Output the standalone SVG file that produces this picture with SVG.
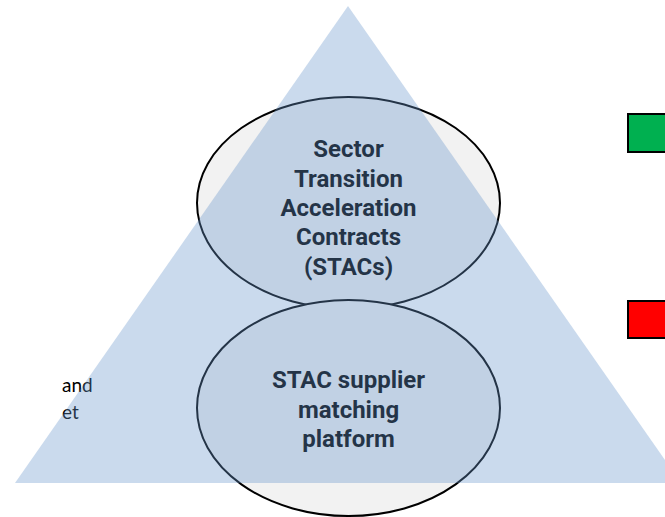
<svg xmlns="http://www.w3.org/2000/svg" width="665" height="517" viewBox="0 0 665 517">
<style>
.ell{fill:#f2f2f2;stroke:#000;stroke-width:2}
.lbl{font-family:Roboto,"Liberation Sans",sans-serif;font-weight:bold;font-size:24px;fill:#000;text-anchor:middle}
.side{font-family:Lato,"Liberation Sans",sans-serif;font-size:19px;fill:#000}
.sq{stroke:#000;stroke-width:2}
</style>
<rect width="665" height="517" fill="#fff"/>
<g id="side-text">
<text class="side" x="62" y="392">and</text>
<text class="side" x="62" y="419">et</text>
</g>
<g id="node-stac">
<ellipse class="ell" cx="348.5" cy="203" rx="151.5" ry="106"/>
<text class="lbl" x="348.5" y="157">Sector</text>
<text class="lbl" x="348.5" y="187">Transition</text>
<text class="lbl" x="348.5" y="216">Acceleration</text>
<text class="lbl" x="348.5" y="245">Contracts</text>
<text class="lbl" x="348.5" y="275">(STACs)</text>
</g>
<g id="node-platform">
<ellipse class="ell" cx="348.5" cy="408" rx="151.5" ry="108"/>
<text class="lbl" x="348.5" y="388">STAC supplier</text>
<text class="lbl" x="348.5" y="418">matching</text>
<text class="lbl" x="348.5" y="447">platform</text>
</g>
<g id="pyramid">
<polygon points="348,6 15,483 681,483" fill="#6795cb" fill-opacity="0.35"/>
</g>
<g id="legend-green"><rect class="sq" x="628" y="114" width="38" height="38" fill="#00b050"/></g>
<g id="legend-red"><rect class="sq" x="628" y="301" width="38" height="37" fill="#ff0000"/></g>
<g id="connectors"></g>
</svg>
